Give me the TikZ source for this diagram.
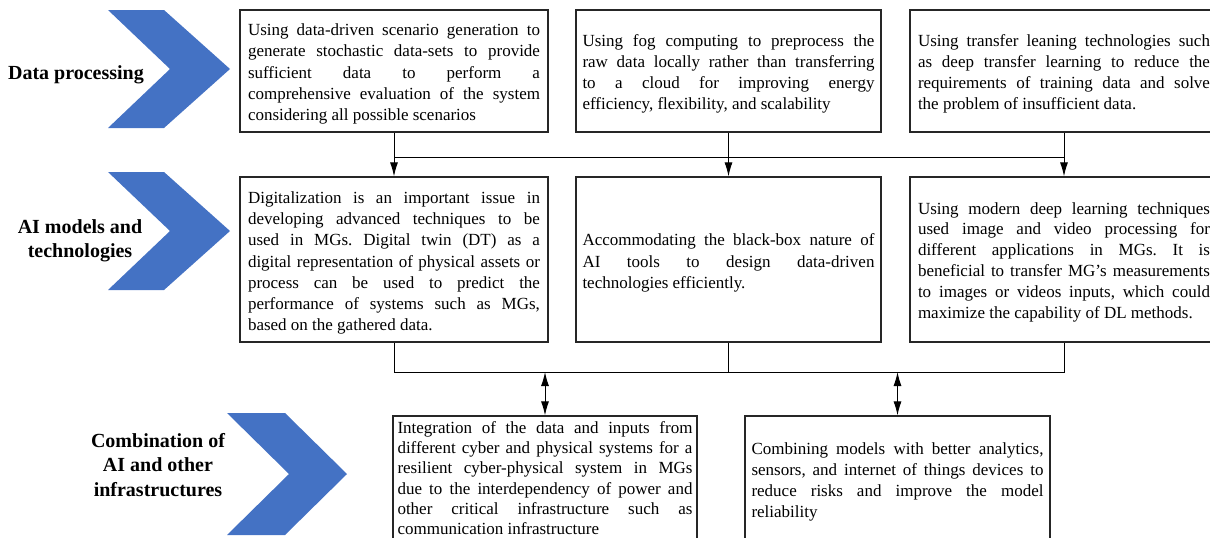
\documentclass[tikz,border=0pt]{standalone}
\usepackage{fontspec}
\setmainfont{Liberation Serif}
\usetikzlibrary{arrows.meta}
\definecolor{chev}{HTML}{4472C4}
\newlength\tw
\setlength\tw{292pt}
\newcommand\jl[1]{\noindent\hbox to \hsize{\spaceskip=0pt\xspaceskip=0pt\frenchspacing #1}\par}
\newcommand\lastln[1]{\noindent\hbox{\spaceskip=0pt\xspaceskip=0pt\frenchspacing #1}\par}
\begin{document}
\begin{tikzpicture}[x=1pt,y=-1pt,
  box/.style={draw=black!85,line width=1.2pt,minimum width=308pt,inner sep=0pt},
  txt/.style={inner sep=0pt,text width=\tw,align=left,font=\fontsize{17}{21.2}\selectfont},
  lab/.style={inner sep=0pt,align=center,font=\fontsize{20}{24.5}\selectfont\bfseries},
  con/.style={line width=1pt,black},
  arr/.style={con,-{Latex[length=14pt,width=8pt]}},
  darr/.style={con,{Latex[length=14pt,width=8pt]}-{Latex[length=14pt,width=8pt]}},
  chevron/.style={fill=chev,draw=none}]
\useasboundingbox (0,0) rectangle (1210,538);
\clip (0,0) rectangle (1210,538);
% chevrons
\fill[chevron] (108,10) -- (164,10) -- (230,69) -- (164,128) -- (108,128) -- (170,69) -- cycle;
\fill[chevron] (108,172) -- (164,172) -- (230,231) -- (164,290) -- (108,290) -- (170,231) -- cycle;
\fill[chevron] (227,413) -- (285,413) -- (347,474) -- (285,535) -- (227,535) -- (289,474) -- cycle;
% labels
\node[lab] (l1) at (76,75) {Data processing};
\node[lab] (l2) at (80,241) {AI models and\\technologies};
\node[lab] (l3) at (158,465) {Combination of\\AI and other\\infrastructures};
% row 1
\node[box,minimum height=122pt] (b11) at (394,71) {};
\node[box,minimum height=122pt,minimum width=305pt] (b12) at (728.5,71) {};
\node[box,minimum height=122pt] (b13) at (1064,71) {};
% row 2
\node[box,minimum height=165pt] (b21) at (394,259.5) {};
\node[box,minimum height=165pt,minimum width=305pt] (b22) at (728.5,259.5) {};
\node[box,minimum height=165pt] (b23) at (1064,259.5) {};
% row 3
\node[box,minimum height=130pt,minimum width=304pt] (b31) at (545,481) {};
\node[box,minimum height=130pt,minimum width=305pt] (b32) at (897.5,481) {};
% texts
\node[txt] (t11) at ([yshift=-3pt]b11.center) {\jl{Using data-driven scenario generation to}\jl{generate stochastic data-sets to provide}\jl{sufficient data to perform a}\jl{comprehensive evaluation of the system}\lastln{considering all possible scenarios}};
\node[txt] (t12) at ([yshift=-3pt]b12.center) {\jl{Using fog computing to preprocess the}\jl{raw data  locally rather than transferring}\jl{to a cloud for improving energy}\lastln{efficiency, flexibility, and scalability}};
\node[txt] (t13) at ([yshift=-3pt]b13.center) {\jl{Using transfer leaning technologies such}\jl{as deep transfer learning to reduce the}\jl{requirements of training data and solve}\lastln{the problem of insufficient data.}};
\node[txt] (t21) at ([yshift=-3.5pt]b21.center) {\jl{Digitalization is an important issue in}\jl{developing advanced techniques to be}\jl{used in MGs. Digital twin (DT) as a}\jl{digital representation of physical assets or}\jl{process can be used to predict the}\jl{performance of systems such as MGs,}\lastln{based on the gathered data.}};
\node[txt] (t22) at ([yshift=-3.5pt]b22.center) {\jl{Accommodating the black-box nature of}\jl{AI tools to design data-driven}\lastln{technologies efficiently.}};
\node[txt,font=\fontsize{17}{20.8}\selectfont] (t23) at ([yshift=-2.5pt]b23.center) {\jl{Using modern deep learning techniques}\jl{used image and video processing for}\jl{different  applications in MGs. It is}\jl{beneficial to transfer MG’s measurements}\jl{to images or videos inputs, which could}\lastln{maximize the capability of DL methods.}};
\node[txt,text width=295pt,font=\fontsize{17}{20.2}\selectfont] (t31) at ([yshift=3pt]b31.center) {\jl{Integration of the data and inputs from}\jl{different cyber and physical systems for a}\jl{resilient cyber-physical system in MGs}\jl{due to the interdependency of power and}\jl{other critical infrastructure such as}\lastln{communication infrastructure}};
\node[txt,font=\fontsize{17}{21}\selectfont] (t32) at ([yshift=-1pt]b32.center) {\jl{Combining models with better analytics,}\jl{sensors, and internet of things devices to}\jl{reduce risks and improve the model}\lastln{reliability}};
% connectors row1 -> row2
\coordinate (bus1) at (0,157);
\coordinate (bus2) at (0,372);
\draw[con] (b11.south |- bus1) -- (b13.south |- bus1);
\draw[arr] (b11.south) -- (b21.north);
\draw[arr] (b12.south) -- (b22.north);
\draw[arr] (b13.south) -- (b23.north);
% row2 -> bus2
\draw[con] (b21.south) -- (b21.south |- bus2) -- (b23.south |- bus2) -- (b23.south);
\draw[con] (b22.south) -- (b22.south |- bus2);
\draw[darr] (b31.north |- bus2) -- (b31.north);
\draw[darr] (b32.north |- bus2) -- (b32.north);
\end{tikzpicture}
\end{document}
